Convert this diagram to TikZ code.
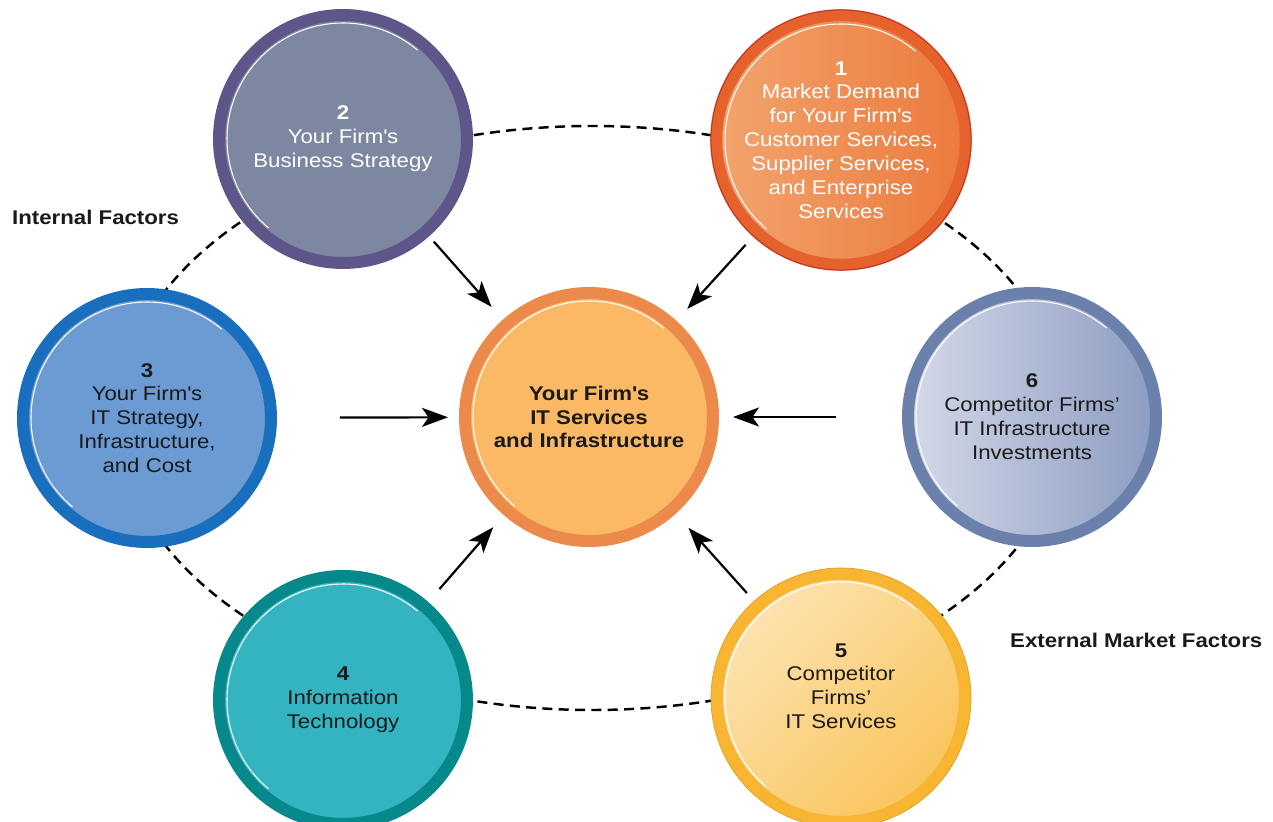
\documentclass[tikz,border=0pt]{standalone}
\usepackage{fontspec}
\setmainfont{Liberation Sans}[FakeStretch=1.12]
\usetikzlibrary{arrows.meta}
\definecolor{coreRing}{HTML}{EB8A4B}
\definecolor{coreFill}{HTML}{FBB865}
\definecolor{stratRing}{HTML}{5E5689}
\definecolor{stratFill}{HTML}{7E87A1}
\definecolor{demandRing}{HTML}{E5622C}
\definecolor{demandLeft}{HTML}{F2A46E}
\definecolor{demandRight}{HTML}{EC7A3C}
\definecolor{demandEdge}{HTML}{C0302A}
\definecolor{itRing}{HTML}{1A6EBE}
\definecolor{itFill}{HTML}{6C9BD3}
\definecolor{invRing}{HTML}{6B80AB}
\definecolor{invLeft}{HTML}{D4D9E8}
\definecolor{invRight}{HTML}{8C9CC2}
\definecolor{techRing}{HTML}{07888A}
\definecolor{techFill}{HTML}{33B4C0}
\definecolor{svcRing}{HTML}{F7B531}
\definecolor{svcLight}{HTML}{FDE3B0}
\definecolor{svcDark}{HTML}{F9C45C}
\definecolor{svcEdge}{HTML}{E0A020}
\definecolor{ink}{HTML}{1A1A1A}
\newcommand\circfont{\fontsize{11.3}{13.6}\selectfont}
\begin{document}
\begin{tikzpicture}[x=0.02cm,y=0.02cm,
  disc/.style={circle,minimum size=4.96cm,line width=0.24cm,inner sep=0pt,align=center,text=ink,font=\circfont},
  flow/.style={line width=1.25pt,-{Stealth[length=0.52cm,width=0.38cm,inset=0.13cm]}},
  orbit/.style={line width=1.4pt,dash pattern=on 5.7pt off 3.6pt},
  shine/.style={white,line width=0.6pt},
  factor/.style={anchor=west,text=ink,font=\bfseries\circfont}]
\fill[white] (0,0) rectangle (1273,821);
\useasboundingbox (0,0) rectangle (1273,821);
\draw[orbit] (592,403) ellipse [x radius=474, y radius=292];

\node[disc,draw=coreRing,fill=coreFill,font=\bfseries\circfont] (core) at (589,404)
  {Your Firm\textquotesingle s\\IT Services\\and Infrastructure};
\node[disc,draw=stratRing,fill=stratFill,text=white] (strat) at (343,682)
  {\textbf{2}\\Your Firm\textquotesingle s\\Business Strategy};
\node[disc,draw=demandRing,left color=demandLeft,right color=demandRight,text=white] (demand) at (841,681)
  {\textbf{1}\\Market Demand\\for Your Firm\textquotesingle s\\Customer Services,\\Supplier Services,\\and Enterprise\\Services};
\node[disc,draw=itRing,fill=itFill] (itstrat) at (147,403)
  {\textbf{3}\\Your Firm\textquotesingle s\\IT Strategy,\\Infrastructure,\\and Cost};
\node[disc,draw=invRing,left color=invLeft,right color=invRight] (compinv) at (1032,404)
  {\textbf{6}\\Competitor Firms'\\IT Infrastructure\\Investments};
\node[disc,draw=techRing,fill=techFill] (infotech) at (343,121)
  {\textbf{4}\\Information\\Technology};
\node[disc,draw=svcRing,top color=svcLight,bottom color=svcDark,shading angle=45] (compsvc) at (841,123)
  {\textbf{5}\\Competitor\\Firms'\\IT Services\\\mbox{}};
\draw[demandEdge,line width=0.5pt] (demand.center) circle[radius=130];
\draw[svcEdge,line width=0.4pt] (compsvc.center) circle[radius=130];

\foreach \n in {core,strat,demand,itstrat,compinv,infotech,compsvc}
  \draw[shine] (\n.center) ++(230:116) arc[start angle=230,end angle=50,radius=116];

\draw[flow,shorten <=0.14cm,shorten >=0.34cm] (strat) -- (core);
\draw[flow,shorten <=0.22cm,shorten >=0.32cm] (demand) -- (core);
\draw[flow,shorten <=1.26cm,shorten >=0.22cm] (itstrat) -- (core);
\draw[flow,shorten <=1.32cm,shorten >=0.28cm] (compinv) -- (core);
\draw[flow,shorten <=0.34cm,shorten >=0.32cm] (infotech) -- (core);
\draw[flow,shorten <=0.22cm,shorten >=0.38cm] (compsvc) -- (core);

\node[factor] (internal) at (6,604) {Internal Factors};
\node[factor] (external) at (1004,181) {External Market Factors};
\end{tikzpicture}
\end{document}
